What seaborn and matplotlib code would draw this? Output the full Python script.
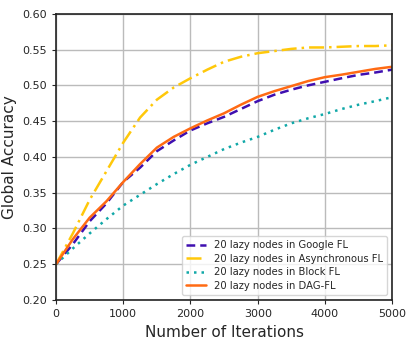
import numpy as np
import pandas as pd
import matplotlib
matplotlib.use("Agg")
import matplotlib.pyplot as plt
import seaborn as sns

# ── data ────────────────────────────────────────────────────
iters = list(range(0, 5001, 250))
google_fl = [0.25, 0.278, 0.31, 0.335, 0.365, 0.385, 0.408, 0.423, 0.437, 0.447, 0.456,
             0.467, 0.478, 0.487, 0.494, 0.500, 0.505, 0.510, 0.5147, 0.518, 0.522]
async_fl = [0.25, 0.293, 0.34, 0.38, 0.42, 0.455, 0.48, 0.497, 0.51, 0.522, 0.533,
            0.540, 0.545, 0.548, 0.551, 0.553, 0.553, 0.554, 0.555, 0.555, 0.556]
block_fl = [0.25, 0.272, 0.293, 0.313, 0.332, 0.347, 0.362, 0.376, 0.389, 0.400, 0.411,
            0.420, 0.428, 0.438, 0.447, 0.454, 0.460, 0.467, 0.473, 0.478, 0.4835]
dag_fl = [0.25, 0.285, 0.315, 0.338, 0.365, 0.39, 0.413, 0.428, 0.44, 0.451, 0.461,
          0.473, 0.484, 0.492, 0.499, 0.506, 0.5115, 0.515, 0.519, 0.523, 0.526]

labels = ["20 lazy nodes in Google FL", "20 lazy nodes in Asynchronous FL",
          "20 lazy nodes in Block FL", "20 lazy nodes in DAG-FL"]
series = [google_fl, async_fl, block_fl, dag_fl]
colors = ["#3F0FB0", "#FFC80A", "#11A8A8", "#FF6A13"]
styles = [(0, (3.5, 2)), (0, (6, 2, 1, 2)), (0, (1, 2)), "-"]

df = pd.concat([pd.DataFrame({"iter": iters, "acc": s, "method": l})
                for s, l in zip(series, labels)])

sns.set_style("ticks")
plt.rcParams["font.family"] = ["DejaVu Sans"]

fig = plt.figure(figsize=(4.15, 3.46), dpi=100)
ax = fig.add_axes([0.135, 0.133, 0.81, 0.827])

for l, c, ls in zip(labels, colors, styles):
    sub = df[df["method"] == l]
    sns.lineplot(data=sub, x="iter", y="acc", ax=ax, color=c, linestyle=ls,
                 linewidth=1.8, label=l)

ax.set_xlim(0, 5000)
ax.set_ylim(0.20, 0.60)
ax.set_xticks([0, 1000, 2000, 3000, 4000, 5000])
ax.set_yticks(np.arange(0.20, 0.601, 0.05))
ax.set_yticklabels([f"{v:.2f}" for v in np.arange(0.20, 0.601, 0.05)])
ax.tick_params(labelsize=8, length=3)
ax.grid(True, color="#BBBBBB", linewidth=1)
for sp in ax.spines.values():
    sp.set_color("#222222")
    sp.set_linewidth(1.2)
ax.set_xlabel("Number of Iterations", fontsize=11)
ax.set_ylabel("Global Accuracy", fontsize=11)
ax.legend(loc="lower right", fontsize=7.2, frameon=True, handlelength=2,
          borderpad=0.4, labelspacing=0.35)

fig.savefig("out.png", dpi=100)
